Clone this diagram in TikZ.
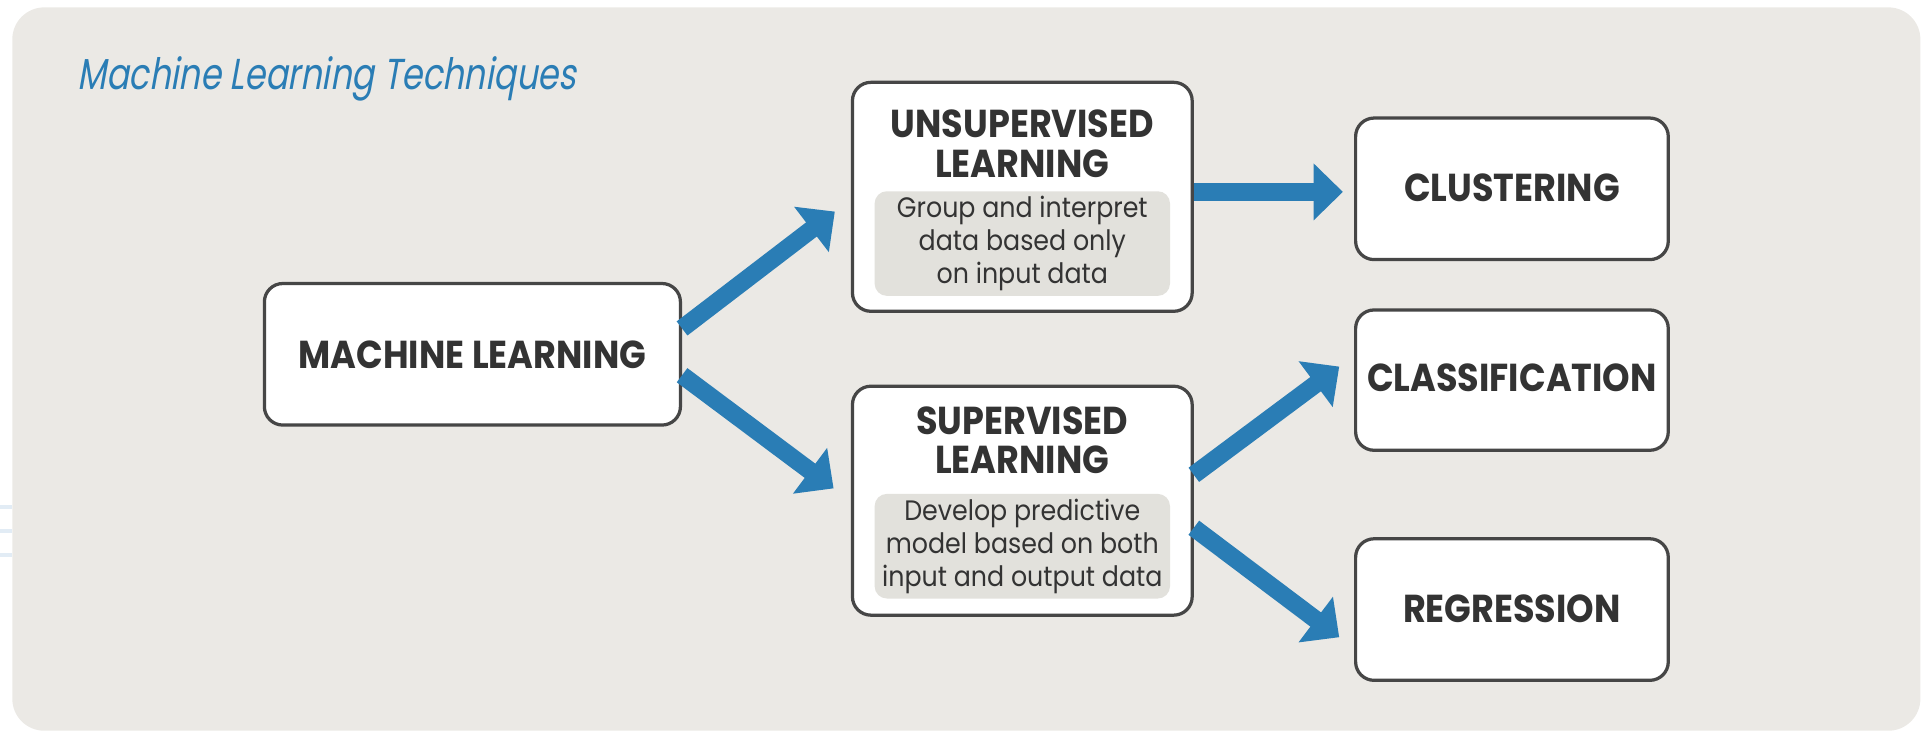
\documentclass[tikz,border=0pt]{standalone}
\usepackage{fontspec}
\usetikzlibrary{arrows.meta,calc}
\newfontfamily\headfont[FakeStretch=0.9]{Poppins}
\newfontfamily\bodyfont[FakeStretch=0.9]{Poppins}
\newfontfamily\titlefont[FakeStretch=0.775,FakeSlant=0.18]{Poppins}
\definecolor{bgc}{RGB}{235,233,229}
\definecolor{innerc}{RGB}{226,225,220}
\definecolor{mlblue}{RGB}{42,125,181}
\definecolor{txtc}{RGB}{51,51,51}
\definecolor{edgec}{RGB}{70,70,70}
\definecolor{faintc}{RGB}{226,236,245}
\tikzset{
  box/.style={draw=edgec, line width=0.75pt, fill=white, rounded corners=0.15cm, inner sep=0pt},
  headtxt/.style={text=txtc, align=center, inner sep=0pt, font={\headfont\bfseries\fontsize{9}{9.1}\selectfont}},
  inbox/.style={fill=innerc, rounded corners=0.1cm, minimum width=2.4cm, minimum height=0.85cm, inner sep=0pt, text=txtc, align=center, font={\bodyfont\fontsize{6.5}{7.6}\selectfont}},
  bigarrow/.style={draw=mlblue, line width=4.1pt, -{Triangle[length=6.8pt,width=12.8pt]}},
}
\begin{document}
\begin{tikzpicture}[x=0.01cm,y=-0.01cm]
\useasboundingbox (0,0) rectangle (1568,595);
% faint stubs at left edge
\draw[faintc, line width=0.9pt] (0,412) -- (10,412);
\draw[faintc, line width=0.9pt] (0,432) -- (10,432);
\draw[faintc, line width=0.9pt] (0,451) -- (10,451);
% background panel
\fill[bgc, rounded corners=0.26cm] (10,6) rectangle (1561,594);
% title
\node[anchor=base west, inner sep=0pt, text=mlblue, font={\titlefont\fontsize{10}{12}\selectfont}] (title) at (62,73) {Machine Learning Techniques};
% main boxes
\node[box, minimum width=3.38cm, minimum height=1.15cm] (ml) at (384,288) {};
\node[headtxt] (mlT) at (384,288) {MACHINE LEARNING};
\node[box, minimum width=2.76cm, minimum height=1.86cm] (unsup) at (831,160) {};
\node[headtxt] (unsupT) at (831,117) {UNSUPERVISED\\LEARNING};
\node[inbox] (unsupD) at (831,198) {Group and interpret\\data based only\\on input data};
\node[box, minimum width=2.76cm, minimum height=1.86cm] (sup) at (831,407) {};
\node[headtxt] (supT) at (831,358) {SUPERVISED\\LEARNING};
\node[inbox] (supD) at (831,444) {Develop predictive\\model based on both\\input and output data};
\node[box, minimum width=2.54cm, minimum height=1.15cm] (clust) at (1229,153.5) {};
\node[headtxt] (clustT) at (1229,153) {CLUSTERING};
\node[box, minimum width=2.54cm, minimum height=1.14cm] (classif) at (1229,309) {};
\node[headtxt] (classifT) at (1229,307) {CLASSIFICATION};
\node[box, minimum width=2.54cm, minimum height=1.15cm] (regr) at (1229,495.5) {};
\node[headtxt] (regrT) at (1229,495) {REGRESSION};
% arrows
\draw[bigarrow] ($(ml.east)+(0,-21)$) -- ($(unsup.west)+(-13,12)$);
\draw[bigarrow] ($(ml.east)+(0,17)$) -- ($(sup.west)+(-14,-10)$);
\draw[bigarrow] ($(unsup.east)+(0,-4)$) -- ($(clust.west)+(-9,2.5)$);
\draw[bigarrow] ($(sup.east)+(0,-21)$) -- ($(classif.west)+(-12,-11)$);
\draw[bigarrow] ($(sup.east)+(0,22)$) -- ($(regr.west)+(-12,22.5)$);
\end{tikzpicture}
\end{document}
